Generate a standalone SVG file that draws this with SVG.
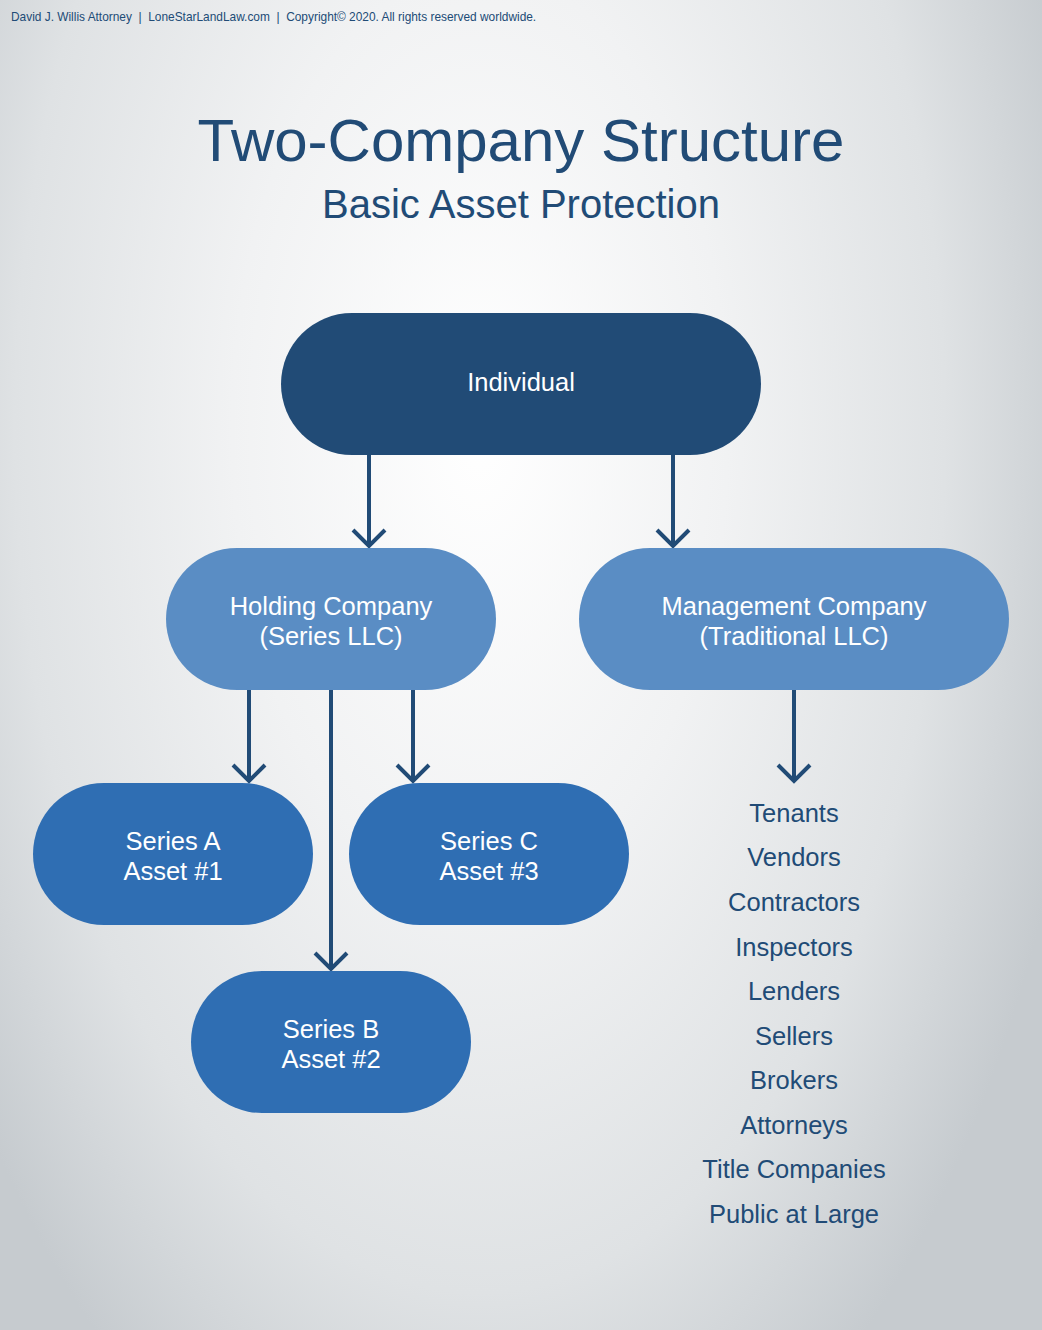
<svg xmlns="http://www.w3.org/2000/svg" width="1042" height="1330" viewBox="0 0 1042 1330">
<defs>
<radialGradient id="bg" cx="0" cy="0" r="1" gradientUnits="userSpaceOnUse" gradientTransform="translate(480 430) scale(620 1150)">
<stop offset="0" stop-color="#ffffff"/>
<stop offset="0.4" stop-color="#f1f2f3"/>
<stop offset="0.75" stop-color="#dfe2e4"/>
<stop offset="1" stop-color="#c6cbcf"/>
</radialGradient>
<style>
.t{font-family:"Liberation Sans",Arial,sans-serif;fill:#214b76}
.n{font-family:"Liberation Sans",Arial,sans-serif;fill:#ffffff;font-size:25.5px;text-anchor:middle}
.l{font-family:"Liberation Sans",Arial,sans-serif;fill:#214b76;font-size:25.5px;text-anchor:middle}
.c{stroke:#214b76;stroke-width:4;fill:none}
</style>
</defs>
<rect x="0" y="0" width="1042" height="1330" fill="url(#bg)"/>
<text class="t" x="11" y="21" font-size="11.9" xml:space="preserve">David J. Willis Attorney  |  LoneStarLandLaw.com  |  Copyright© 2020. All rights reserved worldwide.</text>
<text class="t" x="521" y="161" font-size="60" text-anchor="middle">Two-Company Structure</text>
<text class="t" x="521" y="218" font-size="40" text-anchor="middle">Basic Asset Protection</text>
<g id="connectors">
<path class="c" d="M369 455 V546 M353 530 L369 546 L385 530"/>
<path class="c" d="M673 455 V546 M657 530 L673 546 L689 530"/>
<path class="c" d="M249 690 V781 M233 765 L249 781 L265 765"/>
<path class="c" d="M331 690 V969 M315 953 L331 969 L347 953"/>
<path class="c" d="M413 690 V781 M397 765 L413 781 L429 765"/>
<path class="c" d="M794 690 V781 M778 765 L794 781 L810 765"/>
</g>
<g id="individual">
<rect x="281" y="313" width="480" height="142" rx="71" fill="#214b76"/>
<text class="n" x="521" y="391">Individual</text>
</g>
<g id="holding">
<rect x="166" y="548" width="330" height="142" rx="71" fill="#5a8dc4"/>
<text class="n" x="331" y="615">Holding Company</text>
<text class="n" x="331" y="645">(Series LLC)</text>
</g>
<g id="management">
<rect x="579" y="548" width="430" height="142" rx="71" fill="#5a8dc4"/>
<text class="n" x="794" y="615">Management Company</text>
<text class="n" x="794" y="645">(Traditional LLC)</text>
</g>
<g id="seriesA">
<rect x="33" y="783" width="280" height="142" rx="71" fill="#2f6eb3"/>
<text class="n" x="173" y="850">Series A</text>
<text class="n" x="173" y="880">Asset #1</text>
</g>
<g id="seriesC">
<rect x="349" y="783" width="280" height="142" rx="71" fill="#2f6eb3"/>
<text class="n" x="489" y="850">Series C</text>
<text class="n" x="489" y="880">Asset #3</text>
</g>
<g id="seriesB">
<rect x="191" y="971" width="280" height="142" rx="71" fill="#2f6eb3"/>
<text class="n" x="331" y="1038">Series B</text>
<text class="n" x="331" y="1068">Asset #2</text>
</g>
<g id="parties">
<text class="l" x="794" y="822">Tenants</text>
<text class="l" x="794" y="866">Vendors</text>
<text class="l" x="794" y="911">Contractors</text>
<text class="l" x="794" y="956">Inspectors</text>
<text class="l" x="794" y="1000">Lenders</text>
<text class="l" x="794" y="1045">Sellers</text>
<text class="l" x="794" y="1089">Brokers</text>
<text class="l" x="794" y="1134">Attorneys</text>
<text class="l" x="794" y="1178">Title Companies</text>
<text class="l" x="794" y="1223">Public at Large</text>
</g>
</svg>
